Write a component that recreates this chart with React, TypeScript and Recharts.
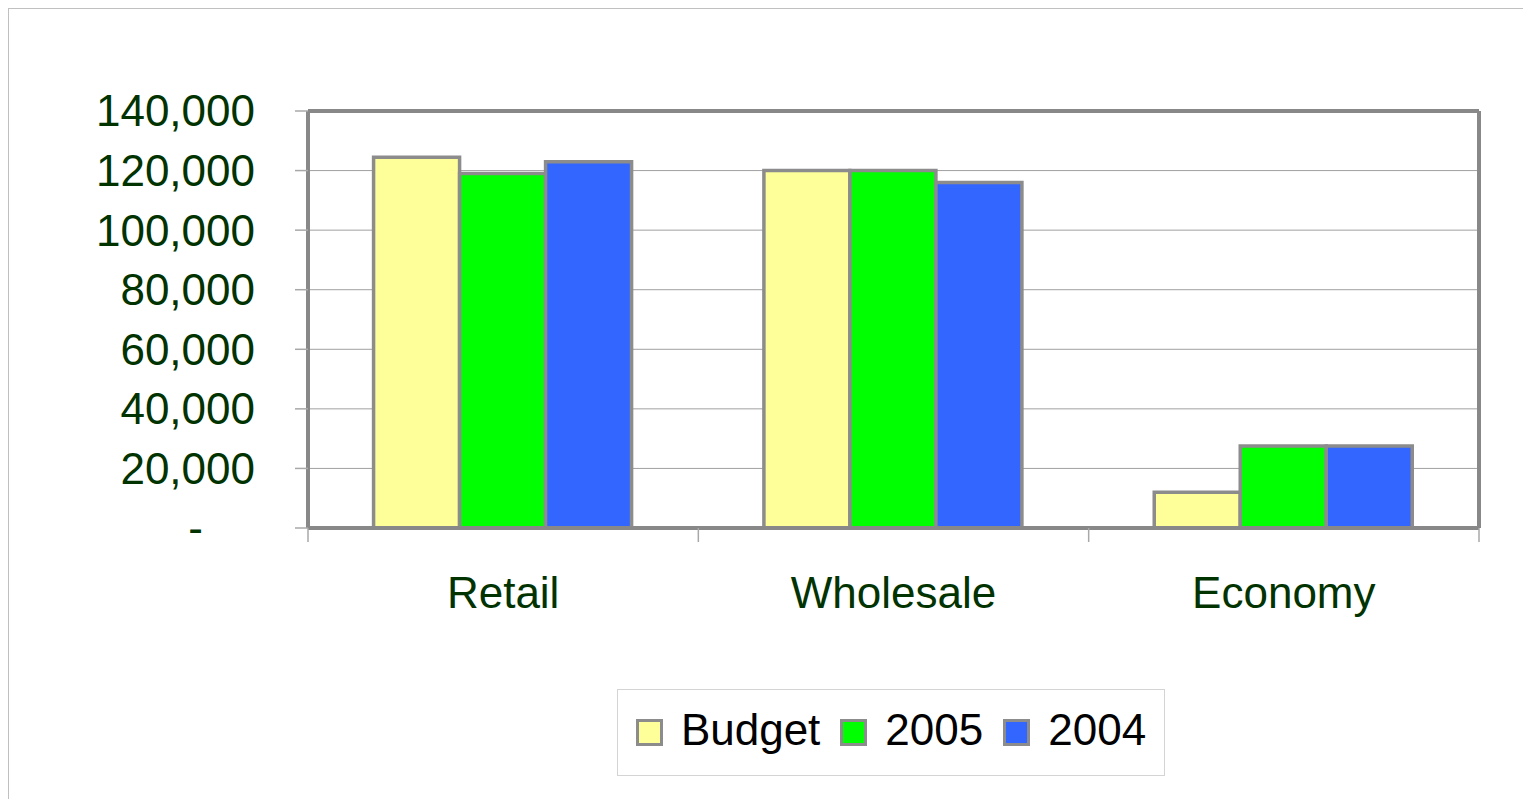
import { BarChart, Bar, XAxis, YAxis, CartesianGrid, Legend } from 'recharts';

const categories = ['Retail', 'Wholesale', 'Economy'];
const budget = [124500, 120000, 12000];
const y2005 = [119000, 120000, 27500];
const y2004 = [123000, 116000, 27500];
const yTicks = [0, 20000, 40000, 60000, 80000, 100000, 120000, 140000];

const series = [
  { key: 'budget', name: 'Budget', color: '#FFFF99' },
  { key: 'y2005', name: '2005', color: '#00FF00' },
  { key: 'y2004', name: '2004', color: '#3366FF' },
];

const data = categories.map((name, i) => ({
  name,
  budget: budget[i],
  y2005: y2005[i],
  y2004: y2004[i],
}));

const FONT = '"Liberation Sans", Arial, sans-serif';
const GREEN_TEXT = '#003300';
const FRAME = '#888888';
const BAR_EDGE = '#8c8c8c';

const W = 1531;
const H = 807;
// the top/right frame axes take 1px each
const MARGIN = { top: 110, right: 51, left: 0, bottom: 179 };
const Y_AXIS_W = 308;
const HALF_BAND = (W - Y_AXIS_W - 52) / categories.length / 2;

function YTick(props: any) {
  const { x, y, payload } = props;
  const isZero = payload.value === 0;
  return (
    <text
      x={isZero ? x - 52 : x}
      y={y}
      dy="0.35em"
      textAnchor="end"
      fill={GREEN_TEXT}
      fontSize={44}
      fontFamily={FONT}
    >
      {isZero ? '-' : payload.value.toLocaleString('en-US')}
    </text>
  );
}

function XTick(props: any) {
  const { x, y, payload, index } = props;
  const top = y - 13;
  return (
    <g>
      <line x1={x - HALF_BAND} x2={x - HALF_BAND} y1={top} y2={top + 14} stroke="#a8a8a8" strokeWidth={1.5} />
      {index === categories.length - 1 && (
        <line x1={x + HALF_BAND} x2={x + HALF_BAND} y1={top} y2={top + 14} stroke="#a8a8a8" strokeWidth={1.5} />
      )}
      <text x={x} y={y} dy={67} textAnchor="middle" fill={GREEN_TEXT} fontSize={44} fontFamily={FONT}>
        {payload.value}
      </text>
    </g>
  );
}

function LegendBox() {
  return (
    <div
      style={{
        width: '100%',
        height: '100%',
        boxSizing: 'border-box',
        border: '1.5px solid #d4d4d4',
        display: 'flex',
        alignItems: 'center',
        justifyContent: 'center',
        fontFamily: FONT,
        fontSize: 44,
        color: '#000',
      }}
    >
      {series.map((s, i) => (
        <div key={s.key} style={{ display: 'flex', alignItems: 'center', marginLeft: i === 0 ? 0 : 20 }}>
          <span
            style={{
              width: 21,
              height: 21,
              border: `3px solid ${BAR_EDGE}`,
              background: s.color,
              marginRight: 18,
              display: 'inline-block',
            }}
          />
          <span style={{ lineHeight: 1, position: 'relative', top: -3 }}>{s.name}</span>
        </div>
      ))}
    </div>
  );
}

export default function App() {
  return (
    <div style={{ position: 'relative', width: W, height: H, margin: -8, background: '#fff', overflow: 'hidden' }}>
      <div
        style={{
          position: 'absolute',
          left: 6,
          top: 6,
          width: W,
          height: H,
          borderTop: '3px solid #c0c0c0',
          borderLeft: '3px solid #c0c0c0',
        }}
      />
      <div style={{ position: 'absolute', left: 0, top: 0 }}>
        <BarChart
          width={W}
          height={H}
          data={data}
          margin={MARGIN}
          barCategoryGap="16.8%"
          barGap={0}
        >
          <CartesianGrid vertical={false} stroke="#a0a0a0" strokeWidth={1} />
          <XAxis
            dataKey="name"
            height={100}
            axisLine={{ stroke: FRAME, strokeWidth: 4 }}
            tickLine={false}
            tickSize={13}
            tickMargin={0}
            tick={<XTick />}
            interval={0}
          />
          <XAxis
            xAxisId="top"
            dataKey="name"
            orientation="top"
            height={1}
            tick={false}
            tickLine={false}
            axisLine={{ stroke: FRAME, strokeWidth: 4 }}
          />
          <YAxis
            width={Y_AXIS_W}
            domain={[0, 140000]}
            ticks={yTicks}
            interval={0}
            axisLine={{ stroke: FRAME, strokeWidth: 4 }}
            tickLine={{ stroke: '#a8a8a8', strokeWidth: 1.5 }}
            tickSize={13}
            tickMargin={40}
            tick={<YTick />}
          />
          <YAxis
            yAxisId="right"
            orientation="right"
            width={1}
            domain={[0, 140000]}
            tick={false}
            tickLine={false}
            axisLine={{ stroke: FRAME, strokeWidth: 4 }}
          />
          <Legend
            layout="horizontal"
            verticalAlign="middle"
            align="center"
            content={<LegendBox />}
            wrapperStyle={{ left: 617, top: 689, width: 548, height: 87 }}
          />
          {series.map((s) => (
            <Bar
              key={s.key}
              dataKey={s.key}
              name={s.name}
              fill={s.color}
              stroke={BAR_EDGE}
              strokeWidth={3.5}
              isAnimationActive={false}
            />
          ))}
        </BarChart>
      </div>
    </div>
  );
}
